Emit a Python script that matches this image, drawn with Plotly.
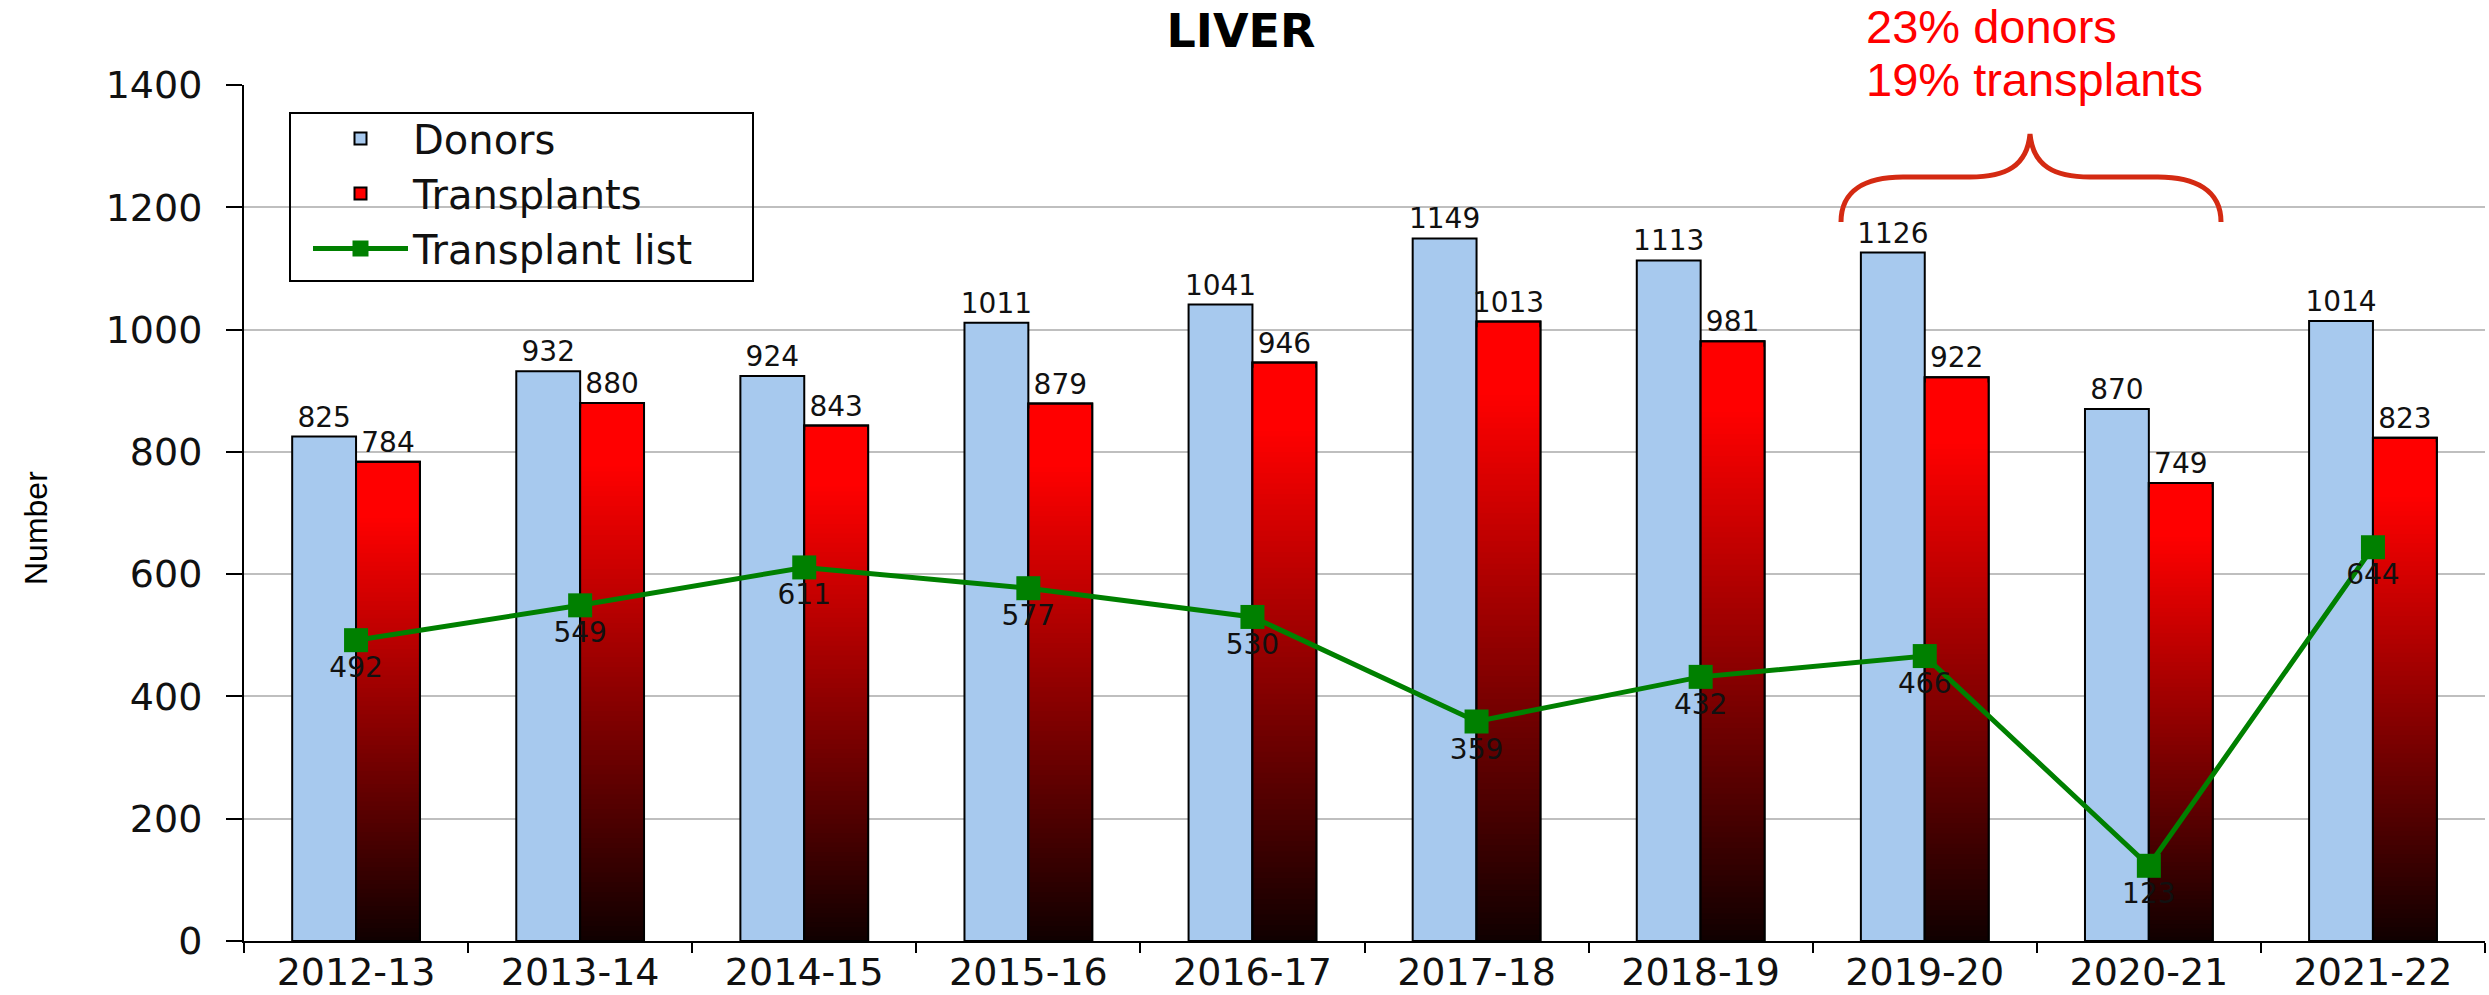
import plotly.graph_objects as go

# ---------------- data ----------------
seasons = ["2012-13", "2013-14", "2014-15", "2015-16", "2016-17",
           "2017-18", "2018-19", "2019-20", "2020-21", "2021-22"]
donors = [825, 932, 924, 1011, 1041, 1149, 1113, 1126, 870, 1014]
transplants = [784, 880, 843, 879, 946, 1013, 981, 922, 749, 823]
transplant_list = [492, 549, 611, 577, 530, 359, 432, 466, 123, 644]
y_ticks = [0, 200, 400, 600, 800, 1000, 1200, 1400]

note_lines = ["23% donors", "19% transplants"]

# ---------------- geometry helpers (decorations only) ----------------
W, H = 2489, 995
ML, MR, MT, MB = 244, 4, 85, 54
PW, PH = W - ML - MR, H - MT - MB


def px(x):
    return (x - ML) / PW


def py(y):
    return (H - MB - y) / PH


BLUE = "#A7C9EE"
GREEN = "#008000"
TICK_FONT = dict(family="DejaVu Sans", size=38, color="#111111")
LABEL_FONT = dict(family="DejaVu Sans", size=28, color="#111111")


def grad(f):
    r = min(255, int(round(16 + 270 * f)))
    return f"rgb({r},0,0)"


fig = go.Figure()

fig.add_trace(go.Bar(
    x=seasons, y=donors, name="Donors", offsetgroup="D",
    marker=dict(color=BLUE, line=dict(color="black", width=2)),
    text=[str(v) for v in donors], textposition="outside",
    textfont=LABEL_FONT, cliponaxis=False, constraintext="none",
    legendgroup="a", legendrank=1,
))

# gradient transplant bars: overlapping layers, tallest (brightest) first
N = 110
for k in range(N):
    top = (N - k) / N
    mid = (N - k - 0.5) / N
    fig.add_trace(go.Bar(
        x=seasons, y=[v * top for v in transplants],
        name="Transplants", offsetgroup="T",
        marker=dict(color=grad(mid) if k else "rgb(255,0,0)",
                    line=dict(color="black", width=2 if k == 0 else 0)),
        showlegend=(k == 0), legendgroup="b", legendrank=2,
        hoverinfo="skip",
    ))

# outline + value labels for transplants
fig.add_trace(go.Bar(
    x=seasons, y=transplants, name="Transplants", offsetgroup="T",
    marker=dict(color="rgba(0,0,0,0)", line=dict(color="black", width=2)),
    text=[str(v) for v in transplants], textposition="outside",
    textfont=LABEL_FONT, cliponaxis=False, constraintext="none",
    showlegend=False, legendgroup="b",
))

fig.add_trace(go.Scatter(
    x=seasons, y=transplant_list, name="Transplant list",
    mode="lines+markers+text",
    line=dict(color=GREEN, width=5),
    marker=dict(symbol="square", size=24, color=GREEN),
    text=[str(v) for v in transplant_list], textposition="bottom center",
    textfont=LABEL_FONT, cliponaxis=False,
    legendgroup="c", legendrank=3,
))

# curly brace (decoration)
brace_pts = [
    ("M", [(1841, 222)]),
    ("C", [(1841, 190), (1866, 177), (1903, 177)]),
    ("L", [(1970, 177)]),
    ("C", [(2006, 177), (2027, 166), (2030, 134)]),
    ("C", [(2033, 166), (2054, 177), (2090, 177)]),
    ("L", [(2158, 177)]),
    ("C", [(2195, 177), (2221, 190), (2221, 222)]),
]
path = " ".join(cmd + " " + " ".join(f"{px(a):.5f},{py(b):.5f}" for a, b in pts)
                for cmd, pts in brace_pts)

shapes = [
    dict(type="path", path=path, xref="paper", yref="paper",
         line=dict(color="#D42A12", width=5), layer="above"),
    dict(type="rect", xref="paper", yref="paper",
         x0=px(290), x1=px(753), y0=py(281), y1=py(113),
         line=dict(color="black", width=2), fillcolor="rgba(0,0,0,0)", layer="above"),
]

annotations = [
    dict(text=note_lines[0], x=px(1864), y=py(26), xref="paper", yref="paper",
         xanchor="left", yanchor="middle", showarrow=False,
         font=dict(family="Liberation Sans", size=47, color="#FF0000")),
    dict(text=note_lines[1], x=px(1864), y=py(80), xref="paper", yref="paper",
         xanchor="left", yanchor="middle", showarrow=False,
         font=dict(family="Liberation Sans", size=47, color="#FF0000")),
    # y-axis title
    dict(text="Number", x=px(36), y=py(528), xref="paper", yref="paper",
         xanchor="center", yanchor="middle", textangle=-90, showarrow=False,
         font=dict(family="Liberation Sans", size=32, color="black")),
]

fig.update_layout(
    width=W, height=H,
    margin=dict(l=ML, r=MR, t=MT, b=MB, autoexpand=False),
    paper_bgcolor="white", plot_bgcolor="white",
    barmode="group", bargap=0.43, bargroupgap=0,
    title=dict(text="LIVER", x=1241 / W, xref="container", xanchor="center",
               y=1 - 31 / H, yref="container", yanchor="middle",
               font=dict(family="DejaVu Sans", size=46, color="black", weight="bold")),
    showlegend=True,
    legend=dict(x=px(308), y=py(106), xanchor="left", yanchor="top",
                bgcolor="rgba(0,0,0,0)", borderwidth=0,
                font=dict(family="DejaVu Sans", size=40, color="#111111"),
                tracegroupgap=2, itemwidth=95, traceorder="normal"),
    shapes=shapes, annotations=annotations,
)

fig.update_xaxes(
    type="category", range=[-0.5, len(seasons) - 0.5],
    showline=True, linecolor="black", linewidth=2,
    ticks="outside", ticklen=10, tickcolor="black", tickwidth=2,
    tickson="boundaries", showgrid=False, tickfont=TICK_FONT, automargin=False,
    ticklabelstandoff=-4,
)
fig.update_yaxes(
    range=[0, 1400], tickvals=y_ticks, showline=True, linecolor="black", linewidth=2,
    ticks="outside", ticklen=16, tickcolor="black", tickwidth=2,
    showgrid=True, gridcolor="#BFBFBF", gridwidth=2, zeroline=False,
    tickfont=TICK_FONT, ticklabelstandoff=16, automargin=False,
)

fig.write_html(
    "out.html",
    config={"displayModeBar": False},
    post_script="document.body.style.margin='0';document.body.style.overflow='hidden';",
)
